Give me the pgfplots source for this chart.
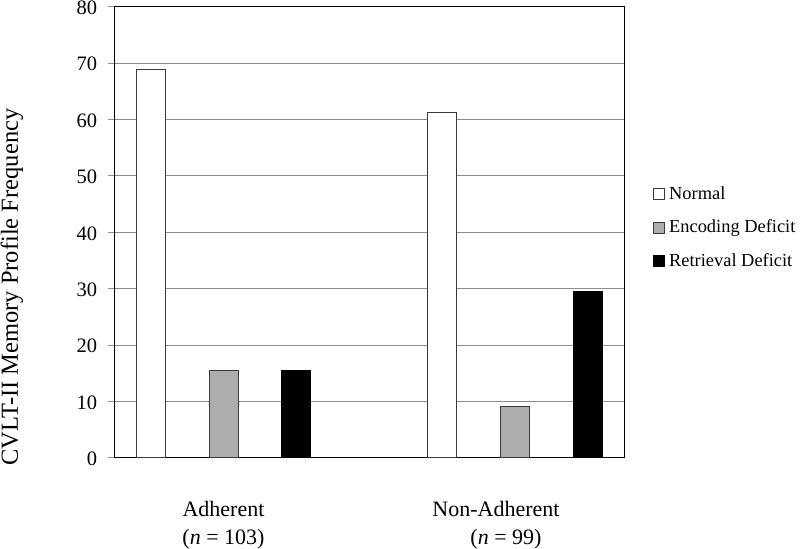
\documentclass[border=0pt]{standalone}
\usepackage{fontspec}
\setmainfont{Liberation Serif}
\usepackage{pgfplots}
\pgfplotsset{compat=1.18}
\definecolor{encgray}{HTML}{ADADAD}
\definecolor{gridgray}{HTML}{8C8C8C}
\definecolor{bardark}{HTML}{3A3A3A}
\begin{document}
\begin{tikzpicture}
\useasboundingbox (0,0) rectangle (800bp,549bp);
\begin{axis}[
  at={(114.7bp,91.3bp)}, anchor=south west,
  scale only axis, width=509.3bp, height=451bp,
  xmin=114.7, xmax=624, ymin=0, ymax=80,
  ybar,
  ytick={0,10,...,80},
  xtick={223.5,496},
  xticklabels={{Adherent\\(\textit{n} = 103)},{Non-Adherent\\\hspace*{20bp}(\textit{n} = 99)}},
  xticklabel style={align=center, font=\fontsize{22bp}{28bp}\selectfont, yshift=-33bp},
  xtick style={draw=none},
  ytick pos=left,
  tick align=outside,
  major tick length=7bp,
  ytick style={draw=gridgray, line width=0.8bp},
  yticklabel style={font=\fontsize{20.5bp}{24bp}\selectfont, xshift=-7bp, yshift=-1.2bp},
  /pgf/number format/assume math mode=true,
  ymajorgrids,
  major grid style={draw=gridgray, line width=0.8bp},
  axis line style={draw=black, line width=0.9bp},
  ylabel={CVLT-II Memory Profile Frequency},
  ylabel style={at={(axis description cs:-0.2017,0.3785)}, anchor=center, font=\fontsize{24.5bp}{28bp}\selectfont},
  legend style={at={(axis description cs:1.0569,0.607)}, anchor=north west, draw=none, fill=none, inner sep=0pt,
    font=\fontsize{18.4bp}{22bp}\selectfont, row sep=13.5bp, column sep=3bp,
    nodes={inner sep=1bp, text height=14bp, text depth=4bp}},
  legend cell align=left,
  legend image code/.code={\draw[#1] (0bp,-5.5bp) rectangle (11bp,5.5bp);},
]
\addplot[bar width=29, bar shift=0pt, fill=white, draw=bardark, line width=1bp] coordinates {(150.7,68.9) (442.2,61.3)};
\addplot[bar width=29, bar shift=0pt, fill=encgray, draw=bardark, line width=1bp] coordinates {(223.7,15.5) (515.2,9.1)};
\addplot[bar width=29, bar shift=0pt, fill=black, draw=black, line width=1bp] coordinates {(296.3,15.5) (588,29.5)};
\legend{Normal, Encoding Deficit, Retrieval Deficit}
\end{axis}
\end{tikzpicture}
\end{document}
